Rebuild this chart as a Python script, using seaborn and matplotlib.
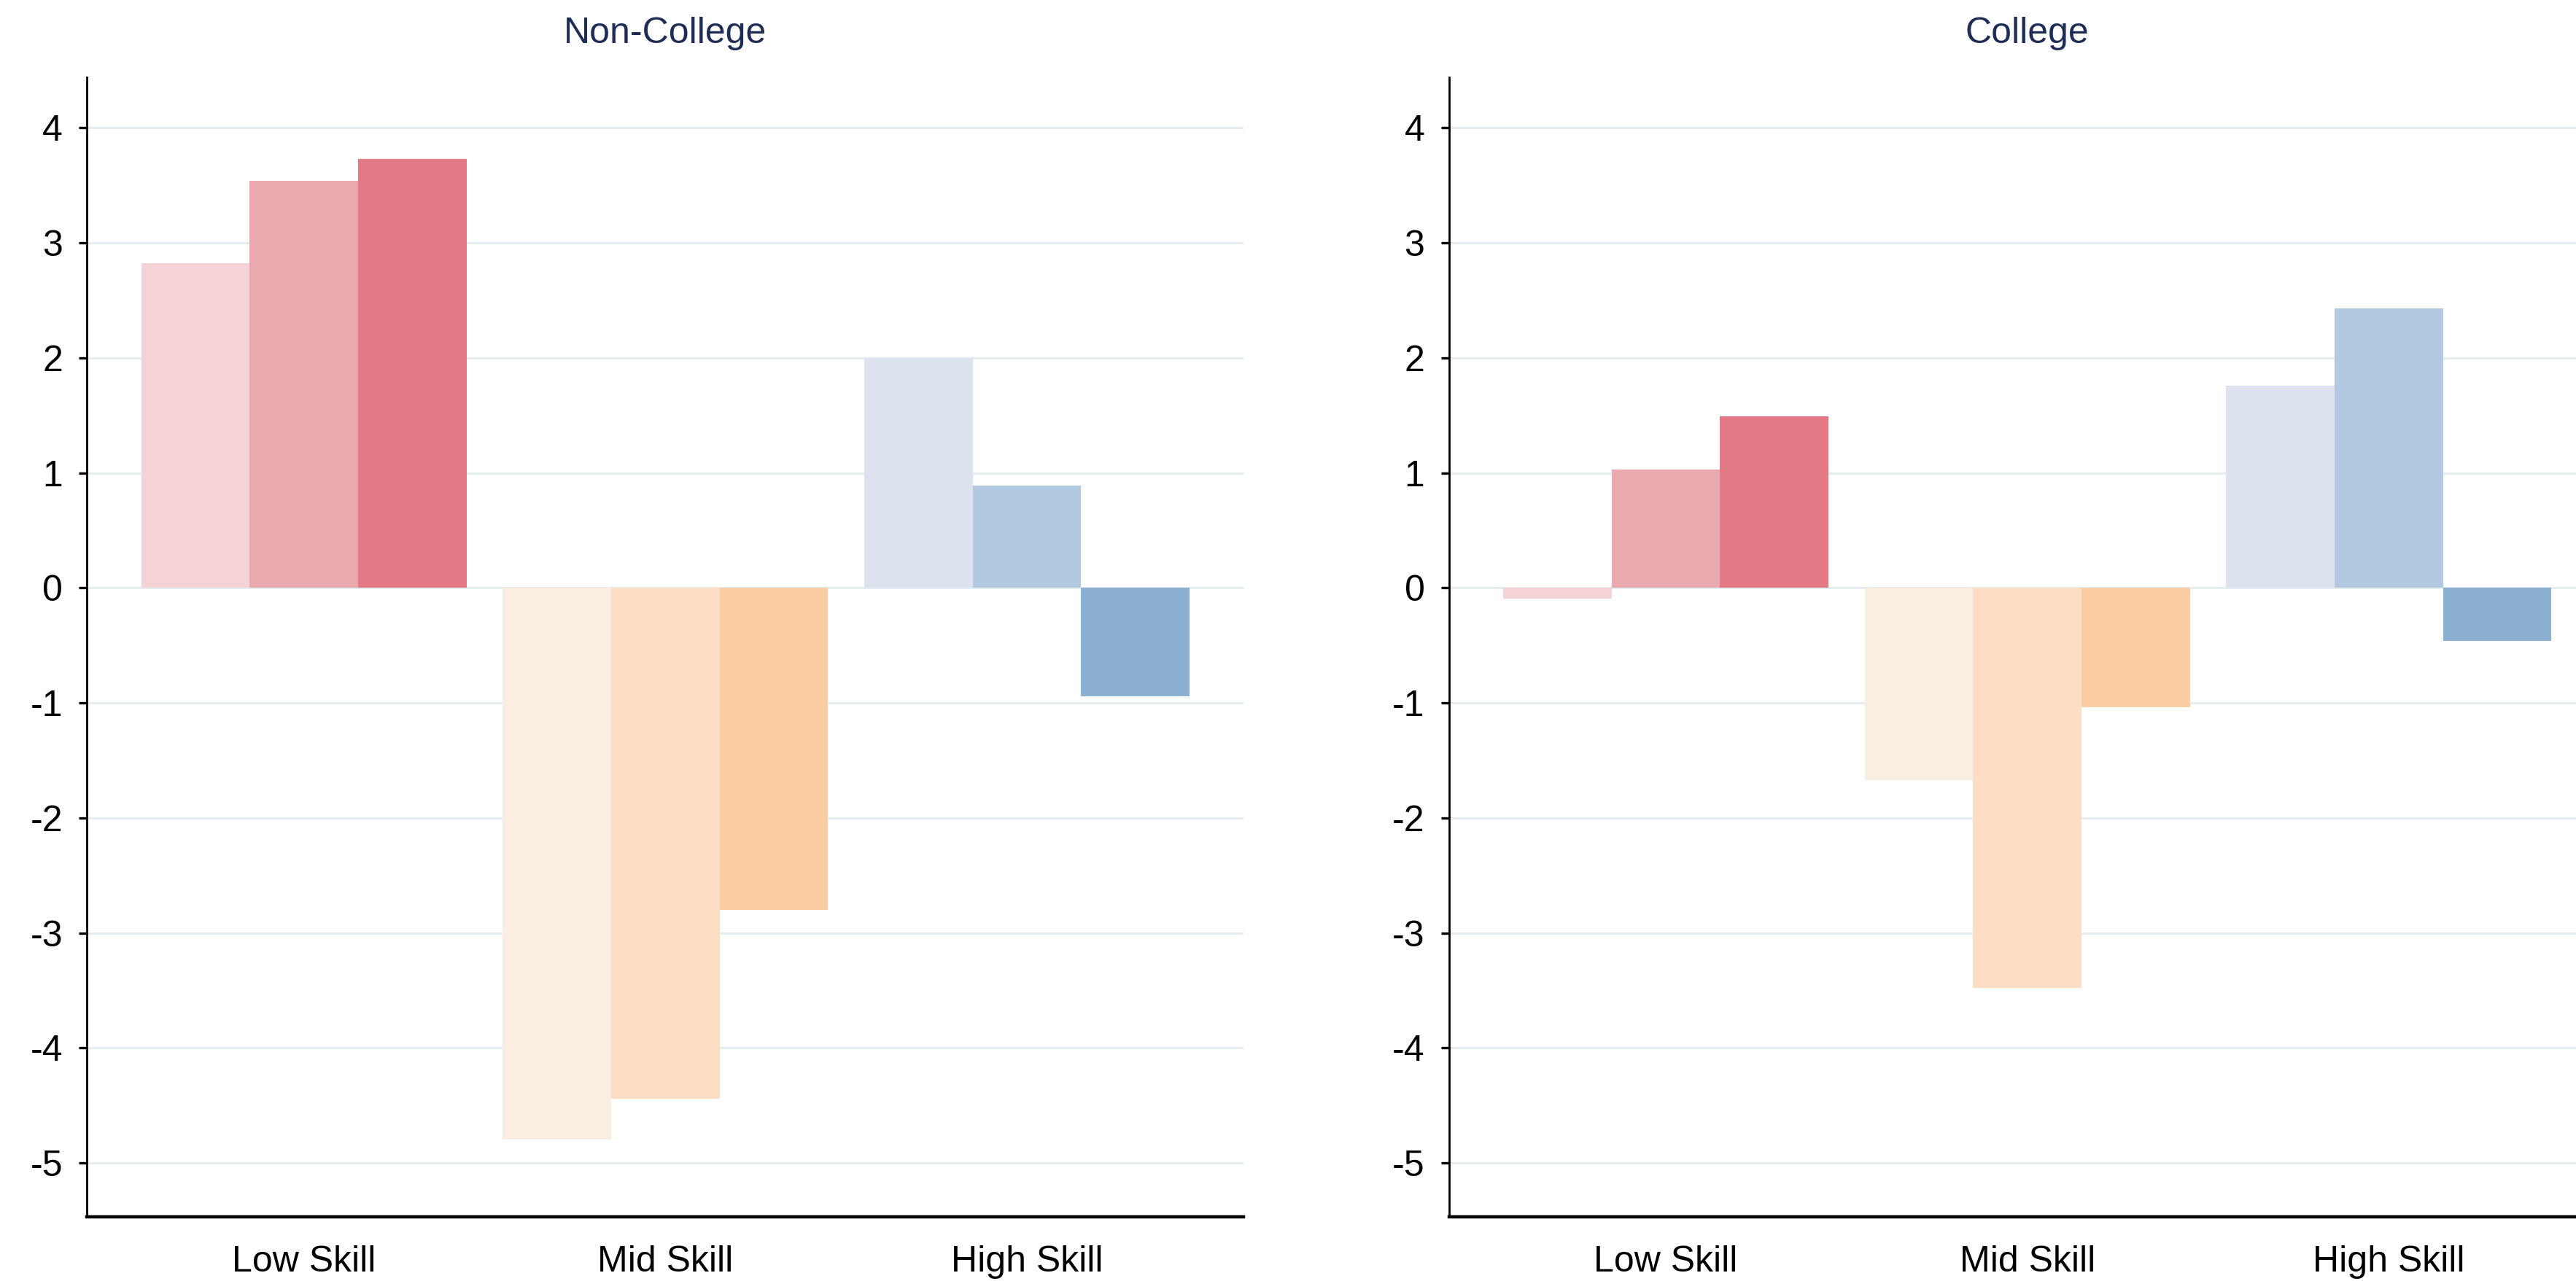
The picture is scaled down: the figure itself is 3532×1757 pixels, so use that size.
import numpy as np
import pandas as pd
import matplotlib
matplotlib.use("Agg")
import matplotlib.pyplot as plt
import seaborn as sns

# ---- data ----
skills = ['Low Skill', 'Mid Skill', 'High Skill']
periods = ['1', '2', '3']

noncollege_low = [2.82, 3.54, 3.73]
noncollege_mid = [-4.80, -4.44, -2.80]
noncollege_high = [2.00, 0.89, -0.94]

college_low = [-0.09, 1.03, 1.49]
college_mid = [-1.67, -3.48, -1.04]
college_high = [1.76, 2.43, -0.46]

yticks = [-5, -4, -3, -2, -1, 0, 1, 2, 3, 4]

# light -> dark shade for each skill group
shades = {
    'Low Skill': ['#F5D2D6', '#EAA8AF', '#E47986'],
    'Mid Skill': ['#FAEEE2', '#FBDEC4', '#FBCDA2'],
    'High Skill': ['#DCE3EF', '#B3C9E1', '#8BB0D2'],
}


def make_df(low, mid, high):
    rows = []
    for skill, vals in zip(skills, [low, mid, high]):
        for p, v in zip(periods, vals):
            rows.append({'skill': skill, 'period': p, 'value': v})
    return pd.DataFrame(rows)


panels = [
    ('Non-College', make_df(noncollege_low, noncollege_mid, noncollege_high)),
    ('College', make_df(college_low, college_mid, college_high)),
]

sns.set_theme(style="white")
plt.rcParams['font.family'] = ['Liberation Sans', 'DejaVu Sans']
plt.rcParams['axes.unicode_minus'] = False

fig = plt.figure(figsize=(17.66, 8.785), dpi=200)
positions = [[0.0338, 0.05, 0.449, 0.8897], [0.5625, 0.05, 0.449, 0.8897]]

for (title, df), pos in zip(panels, positions):
    ax = fig.add_axes(pos)
    for skill in skills:
        sub = df[df['skill'] == skill]
        sns.barplot(data=sub, x='skill', y='value', hue='period', order=skills,
                    hue_order=periods, palette=shades[skill], width=0.9, gap=0,
                    saturation=1, linewidth=0, legend=False, ax=ax, zorder=2)

    ax.set_xlim(-0.6, 2.6)
    ax.set_ylim(-5.47, 4.44)
    ax.set_yticks(yticks)
    ax.set_yticklabels([str(t) for t in yticks])
    ax.set_xlabel('')
    ax.set_ylabel('')
    ax.set_title(title, fontsize=18, color='#1E2D55', pad=17)

    ax.grid(axis='y', color='#E4EEF0', linewidth=1.1, zorder=0)
    ax.grid(axis='x', visible=False)
    ax.set_axisbelow(True)

    for side in ['top', 'right']:
        ax.spines[side].set_visible(False)
    ax.spines['left'].set_color('black')
    ax.spines['left'].set_linewidth(1.0)
    ax.spines['bottom'].set_color('black')
    ax.spines['bottom'].set_linewidth(1.6)

    ax.tick_params(axis='y', left=True, length=4, width=1.2, color='black',
                   pad=8, labelsize=18, labelcolor='black')
    ax.tick_params(axis='x', bottom=False, length=0, pad=14, labelsize=18,
                   labelcolor='black')

fig.savefig('out.png', dpi=200, facecolor='white')
